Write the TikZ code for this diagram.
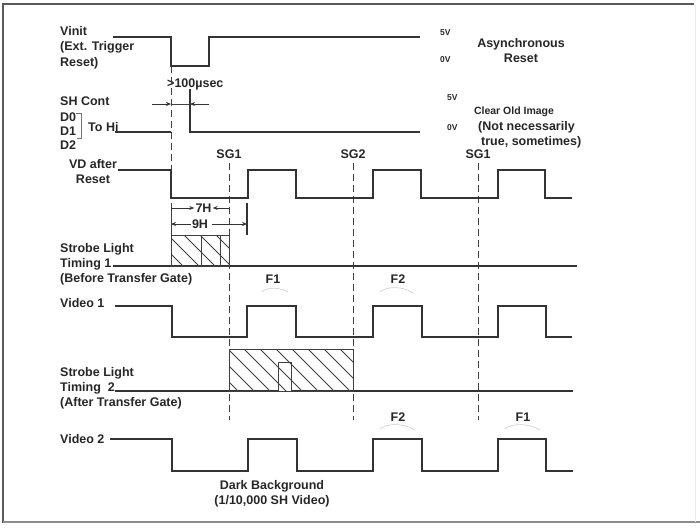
\documentclass[tikz,border=0pt]{standalone}
\usepackage{fontspec}
\setmainfont{Liberation Sans}
\usetikzlibrary{arrows.meta}
\begin{document}
\begin{tikzpicture}[x=1pt,y=-1pt,
  sig/.style={line width=1.2pt, black!80, line join=miter},
  thin line/.style={line width=0.9pt, black!75},
  guide/.style={line width=0.8pt, black!75, dash pattern=on 7pt off 4pt},
  hatch/.style={line width=0.8pt, black!75},
  faint/.style={line width=0.6pt, black!20},
  dim/.style={line width=0.8pt, black!80, -{Stealth[length=5pt,width=4pt]}},
  lbl/.style={font=\fontsize{12.5}{15}\selectfont\bfseries, inner sep=0pt, anchor=base west, text=black!85},
  lblc/.style={lbl, anchor=base},
  sm/.style={font=\fontsize{8.5}{10}\selectfont\bfseries, inner sep=0pt, anchor=base west, text=black!85},
  mid/.style={font=\fontsize{10.5}{12}\selectfont\bfseries, inner sep=0pt, anchor=base, text=black!85},
  dimtxt/.style={lbl, anchor=base, inner xsep=1pt}
]
\useasboundingbox (0,0) rectangle (700,527);
% frame
\draw[line width=2pt, black!65] (3,523) -- (3,4) -- (694,4);
\draw[line width=1.5pt, black!45] (3,522) -- (700,522);
\draw[line width=0.5pt, black!8] (695,4) -- (695,522);

% ---------- Vinit ----------
\node[lbl] (vinit) at (60,36) {Vinit};
\node[lbl] (ext) at (60,51) {(Ext. Trigger};
\node[lbl] (rst1) at (60,66) {Reset)};
\draw[sig] (113,37) -- (171,37) -- (171,66) -- (209,66) -- (209,37) -- (420,37);
\node[sm] (v5a) at (440,36) {5V};
\node[sm] (v0a) at (440,63) {0V};
\node[lblc] (async) at (521,48) {Asynchronous};
\node[lblc] (async2) at (521,63) {Reset};

% ---------- >100 usec ----------
\node[lbl] (usec) at (167,87) {>100µsec};
\draw[dim] (152,104) -- (171,104);
\draw[dim] (209,104) -- (190,104);
\draw[thin line] (171,104) -- (190,104);

% ---------- SH Cont ----------
\node[lbl] (shc) at (60,105) {SH Cont};
\node[lbl] (d0) at (60,121) {D0};
\node[lbl] (d1) at (60,135) {D1};
\node[lbl] (d2) at (60,149) {D2};
\draw[line width=0.6pt, black!55] (76,113) -- (81,113) -- (81,138) -- (77,138);
\node[lbl] (tohi) at (88,131) {To Hi};
\draw[sig] (115,132) -- (171,132);
\draw[sig] (190,89) -- (190,132) -- (420,132);
\node[sm] (v5b) at (447,100) {5V};
\node[sm] (v0b) at (447,130) {0V};
\node[mid] (clear) at (514,114) {Clear Old Image};
\node[lbl] (notn) at (478,130) {(Not necessarily};
\node[lbl] (trues) at (481,145) {true, sometimes)};

% ---------- guides ----------
\draw[guide] (171,66) -- (171,170);
\node[lblc] (sg1) at (229,158) {SG1};
\node[lblc] (sg2) at (353,158) {SG2};
\node[lblc] (sg1b) at (478,158) {SG1};
\draw[guide] (229,163) -- (229,420);
\draw[guide] (353,163) -- (353,420);
\draw[guide] (478,163) -- (478,420);

% ---------- VD after reset ----------
\node[lblc] (vd) at (93,168) {VD after};
\node[lblc] (vd2) at (93,183) {Reset};
\draw[sig] (118,170) -- (171,170) -- (171,198) -- (248,198) -- (248,170) -- (296,170)
  -- (296,198) -- (373,198) -- (373,170) -- (421,170) -- (421,198) -- (498,198)
  -- (498,170) -- (545,170) -- (545,198) -- (572,198);

% ---------- 7H / 9H ----------
\draw[thin line] (171,203) -- (171,235);
\draw[line width=1.1pt, black!80] (247,203) -- (247,235);
\node[dimtxt] (h7) at (203.5,212.5) {7H};
\draw[dim] (171,208) -- (h7.west |- 0,208);
\draw[dim] (229,208) -- (h7.east |- 0,208);
\node[dimtxt] (h9) at (200,228.5) {9H};
\draw[dim] (h9.west |- 0,224) -- (171,224);
\draw[dim] ([xshift=3pt]h9.east |- 0,224) -- (247,224);

% ---------- Strobe 1 ----------
\node[lbl] (sl1) at (60,252) {Strobe Light};
\node[lbl] (tm1) at (60,267) {Timing 1};
\node[lbl] (bt1) at (60,282) {(Before Transfer Gate)};
\draw[sig] (113,266) -- (577,266);
\begin{scope}
  \clip (171,235) rectangle (229,266);
  \foreach \s in {120,136,...,240} \draw[hatch] (\s,235) -- ++(36,36);
\end{scope}
\draw[hatch] (171,235) rectangle (229,266);
\draw[hatch] (201,235) -- (201,266);
\draw[hatch] (220,235) -- (220,266);

\node[lblc] (f1a) at (273,283) {F1};
\draw[faint] (262,292) .. controls (266,287) and (280,287) .. (288,292);
\node[lblc] (f2a) at (398,283) {F2};
\draw[faint] (380,292) .. controls (386,286) and (404,286) .. (413,293);

% ---------- Video 1 ----------
\node[lbl] (vid1) at (60,307) {Video 1};
\draw[sig] (115,306) -- (172,306) -- (172,337) -- (247,337) -- (247,306) -- (296,306)
  -- (296,337) -- (373,337) -- (373,306) -- (422,306) -- (422,337) -- (498,337)
  -- (498,306) -- (546,306) -- (546,337) -- (572,337);

% ---------- Strobe 2 ----------
\node[lbl] (sl2) at (60,376) {Strobe Light};
\node[lbl] (tm2) at (60,391) {Timing\ \ 2};
\node[lbl] (at2) at (60,406) {(After Transfer Gate)};
\draw[sig] (115,391) -- (573,391);
\begin{scope}
  \clip (229,349) rectangle (353,391);
  \foreach \s in {180,196,...,360} \draw[hatch] (\s,349) -- ++(46,46);
\end{scope}
\draw[hatch] (229,349) rectangle (353,391);
\draw[hatch, fill=white] (278,362) rectangle (291,391);
\begin{scope}
  \clip (278,362) rectangle (291,391);
  \foreach \s in {180,196,...,360} \draw[hatch] (\s,349) -- ++(46,46);
\end{scope}

\node[lblc] (f2b) at (398,421) {F2};
\draw[faint] (380,429) .. controls (386,423) and (404,423) .. (415,430);
\node[lblc] (f1b) at (523,421) {F1};
\draw[faint] (505,429) .. controls (511,423) and (529,423) .. (540,430);

% ---------- Video 2 ----------
\node[lbl] (vid2) at (60,443) {Video 2};
\draw[sig] (110,439) -- (172,439) -- (172,471) -- (248,471) -- (248,439) -- (297,439)
  -- (297,471) -- (373,471) -- (373,439) -- (422,439) -- (422,471) -- (498,471)
  -- (498,439) -- (546,439) -- (546,471) -- (573,471);
\node[lblc] (dark) at (272,489) {Dark Background};
\node[lblc] (dark2) at (272,504) {(1/10,000 SH Video)};
\end{tikzpicture}
\end{document}
